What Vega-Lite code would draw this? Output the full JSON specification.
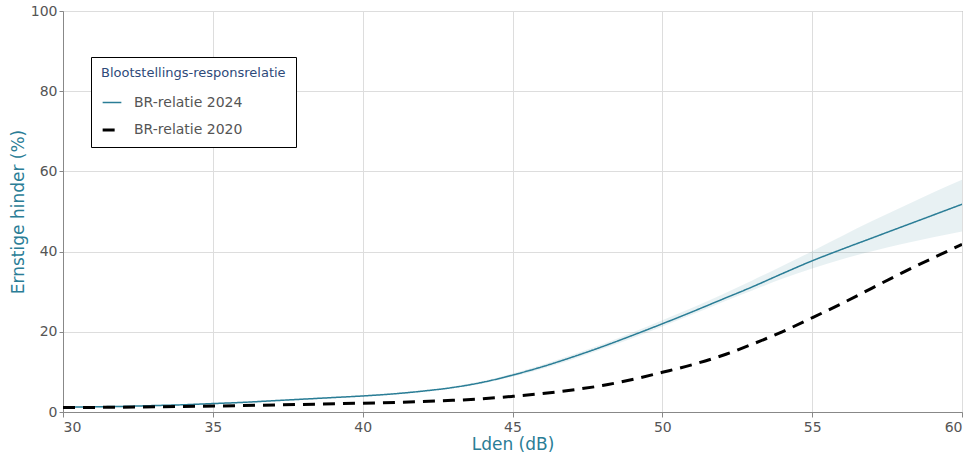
{
  "$schema": "https://vega.github.io/schema/vega-lite/v6.json",
  "width": 899,
  "height": 401,
  "autosize": {"type": "none"},
  "padding": {"left": 63, "top": 11, "right": 11, "bottom": 44},
  "background": "white",
  "config": {
    "font": "DejaVu Sans",
    "view": {"stroke": "#888888", "strokeWidth": 1}
  },
  "datasets": {
    "band": [
      {"lden": 30, "lo": 1.0, "hi": 1.4},
      {"lden": 32, "lo": 1.2, "hi": 1.6},
      {"lden": 34, "lo": 1.6, "hi": 2.0},
      {"lden": 36, "lo": 2.2, "hi": 2.6},
      {"lden": 38, "lo": 3.0, "hi": 3.4},
      {"lden": 40, "lo": 3.8, "hi": 4.2},
      {"lden": 42, "lo": 5.0, "hi": 5.4},
      {"lden": 44, "lo": 7.1, "hi": 7.7},
      {"lden": 45, "lo": 8.8, "hi": 9.6},
      {"lden": 46, "lo": 10.8, "hi": 11.8},
      {"lden": 47, "lo": 13.1, "hi": 14.3},
      {"lden": 48, "lo": 15.7, "hi": 16.9},
      {"lden": 49, "lo": 18.4, "hi": 19.8},
      {"lden": 50, "lo": 21.3, "hi": 22.9},
      {"lden": 51, "lo": 24.3, "hi": 26.0},
      {"lden": 52, "lo": 27.4, "hi": 29.3},
      {"lden": 53, "lo": 30.3, "hi": 32.8},
      {"lden": 54, "lo": 33.2, "hi": 36.4},
      {"lden": 55, "lo": 35.8, "hi": 40.1},
      {"lden": 56, "lo": 38.1, "hi": 43.9},
      {"lden": 57, "lo": 40.1, "hi": 47.6},
      {"lden": 58, "lo": 41.9, "hi": 51.1},
      {"lden": 59, "lo": 43.5, "hi": 54.6},
      {"lden": 60, "lo": 45.0, "hi": 57.9}
    ],
    "lines": [
      {"lden": 30, "hinder": 1.2, "serie": "BR-relatie 2024"},
      {"lden": 31, "hinder": 1.3, "serie": "BR-relatie 2024"},
      {"lden": 32, "hinder": 1.4, "serie": "BR-relatie 2024"},
      {"lden": 33, "hinder": 1.6, "serie": "BR-relatie 2024"},
      {"lden": 34, "hinder": 1.8, "serie": "BR-relatie 2024"},
      {"lden": 35, "hinder": 2.1, "serie": "BR-relatie 2024"},
      {"lden": 36, "hinder": 2.4, "serie": "BR-relatie 2024"},
      {"lden": 37, "hinder": 2.8, "serie": "BR-relatie 2024"},
      {"lden": 38, "hinder": 3.2, "serie": "BR-relatie 2024"},
      {"lden": 39, "hinder": 3.6, "serie": "BR-relatie 2024"},
      {"lden": 40, "hinder": 4.0, "serie": "BR-relatie 2024"},
      {"lden": 41, "hinder": 4.5, "serie": "BR-relatie 2024"},
      {"lden": 42, "hinder": 5.2, "serie": "BR-relatie 2024"},
      {"lden": 43, "hinder": 6.1, "serie": "BR-relatie 2024"},
      {"lden": 44, "hinder": 7.4, "serie": "BR-relatie 2024"},
      {"lden": 45, "hinder": 9.2, "serie": "BR-relatie 2024"},
      {"lden": 46, "hinder": 11.3, "serie": "BR-relatie 2024"},
      {"lden": 47, "hinder": 13.7, "serie": "BR-relatie 2024"},
      {"lden": 48, "hinder": 16.3, "serie": "BR-relatie 2024"},
      {"lden": 49, "hinder": 19.1, "serie": "BR-relatie 2024"},
      {"lden": 50, "hinder": 22.0, "serie": "BR-relatie 2024"},
      {"lden": 51, "hinder": 25.0, "serie": "BR-relatie 2024"},
      {"lden": 52, "hinder": 28.1, "serie": "BR-relatie 2024"},
      {"lden": 53, "hinder": 31.2, "serie": "BR-relatie 2024"},
      {"lden": 54, "hinder": 34.5, "serie": "BR-relatie 2024"},
      {"lden": 55, "hinder": 37.7, "serie": "BR-relatie 2024"},
      {"lden": 56, "hinder": 40.6, "serie": "BR-relatie 2024"},
      {"lden": 57, "hinder": 43.4, "serie": "BR-relatie 2024"},
      {"lden": 58, "hinder": 46.2, "serie": "BR-relatie 2024"},
      {"lden": 59, "hinder": 49.0, "serie": "BR-relatie 2024"},
      {"lden": 60, "hinder": 51.8, "serie": "BR-relatie 2024"},
      {"lden": 30, "hinder": 1.1, "serie": "BR-relatie 2020"},
      {"lden": 32, "hinder": 1.2, "serie": "BR-relatie 2020"},
      {"lden": 34, "hinder": 1.4, "serie": "BR-relatie 2020"},
      {"lden": 36, "hinder": 1.6, "serie": "BR-relatie 2020"},
      {"lden": 38, "hinder": 1.9, "serie": "BR-relatie 2020"},
      {"lden": 40, "hinder": 2.2, "serie": "BR-relatie 2020"},
      {"lden": 42, "hinder": 2.6, "serie": "BR-relatie 2020"},
      {"lden": 43, "hinder": 2.9, "serie": "BR-relatie 2020"},
      {"lden": 44, "hinder": 3.3, "serie": "BR-relatie 2020"},
      {"lden": 45, "hinder": 3.9, "serie": "BR-relatie 2020"},
      {"lden": 46, "hinder": 4.6, "serie": "BR-relatie 2020"},
      {"lden": 47, "hinder": 5.5, "serie": "BR-relatie 2020"},
      {"lden": 48, "hinder": 6.6, "serie": "BR-relatie 2020"},
      {"lden": 49, "hinder": 8.1, "serie": "BR-relatie 2020"},
      {"lden": 50, "hinder": 9.9, "serie": "BR-relatie 2020"},
      {"lden": 51, "hinder": 11.8, "serie": "BR-relatie 2020"},
      {"lden": 52, "hinder": 14.1, "serie": "BR-relatie 2020"},
      {"lden": 53, "hinder": 16.9, "serie": "BR-relatie 2020"},
      {"lden": 54, "hinder": 20.0, "serie": "BR-relatie 2020"},
      {"lden": 55, "hinder": 23.5, "serie": "BR-relatie 2020"},
      {"lden": 56, "hinder": 27.1, "serie": "BR-relatie 2020"},
      {"lden": 57, "hinder": 30.9, "serie": "BR-relatie 2020"},
      {"lden": 58, "hinder": 34.7, "serie": "BR-relatie 2020"},
      {"lden": 59, "hinder": 38.3, "serie": "BR-relatie 2020"},
      {"lden": 60, "hinder": 41.8, "serie": "BR-relatie 2020"}
    ]
  },
  "layer": [
    {
      "data": {"name": "band"},
      "mark": {"type": "area", "color": "#2a7d96", "opacity": 0.11, "interpolate": "monotone"},
      "encoding": {
        "x": {"field": "lden", "type": "quantitative"},
        "y": {"field": "lo", "type": "quantitative"},
        "y2": {"field": "hi"}
      }
    },
    {
      "data": {"name": "lines"},
      "mark": {"type": "line", "interpolate": "monotone", "clip": true},
      "encoding": {
        "x": {
          "field": "lden", "type": "quantitative",
          "scale": {"domain": [30, 60], "nice": false},
          "axis": {
            "title": "Lden (dB)", "titleColor": "#2a7d96", "titleFontSize": 17, "titleFontWeight": "normal",
            "titlePadding": 2, "values": [30, 35, 40, 45, 50, 55, 60],
            "labelColor": "#555555", "labelFontSize": 14, "labelPadding": 3,
            "domainColor": "#888888", "tickColor": "#888888", "tickSize": 5,
            "gridColor": "#dddddd"
          }
        },
        "y": {
          "field": "hinder", "type": "quantitative",
          "scale": {"domain": [0, 100], "nice": false},
          "axis": {
            "title": "Ernstige hinder (%)", "titleColor": "#2a7d96", "titleFontSize": 17, "titleFontWeight": "normal",
            "titlePadding": 3, "values": [0, 20, 40, 60, 80, 100],
            "labelColor": "#555555", "labelFontSize": 14, "labelPadding": 2,
            "domainColor": "#888888", "tickColor": "#888888", "tickSize": 4,
            "gridColor": "#dddddd"
          }
        },
        "color": {
          "field": "serie", "type": "nominal",
          "scale": {"domain": ["BR-relatie 2024", "BR-relatie 2020"], "range": ["#2a7d96", "#000000"]},
          "legend": {
            "title": "Blootstellings-responsrelatie", "orient": "none", "legendX": 28, "legendY": 46,
            "titleColor": "#2e4a7a", "titleFontSize": 13, "titleFontWeight": "normal", "titlePadding": 12,
            "titleLimit": 400,
            "labelColor": "#555555", "labelFontSize": 14, "labelOffset": 11,
            "symbolType": "stroke", "symbolSize": 350, "rowPadding": 9,
            "strokeColor": "#000000", "fillColor": "white", "padding": 10,
            "cornerRadius": 0
          }
        },
        "strokeDash": {
          "field": "serie", "type": "nominal",
          "scale": {"domain": ["BR-relatie 2024", "BR-relatie 2020"], "range": [[1, 0], [12, 8]]},
          "legend": {"title": "Blootstellings-responsrelatie"}
        },
        "strokeWidth": {
          "field": "serie", "type": "nominal",
          "scale": {"domain": ["BR-relatie 2024", "BR-relatie 2020"], "range": [1.5, 3]},
          "legend": {"title": "Blootstellings-responsrelatie"}
        }
      }
    }
  ]
}
